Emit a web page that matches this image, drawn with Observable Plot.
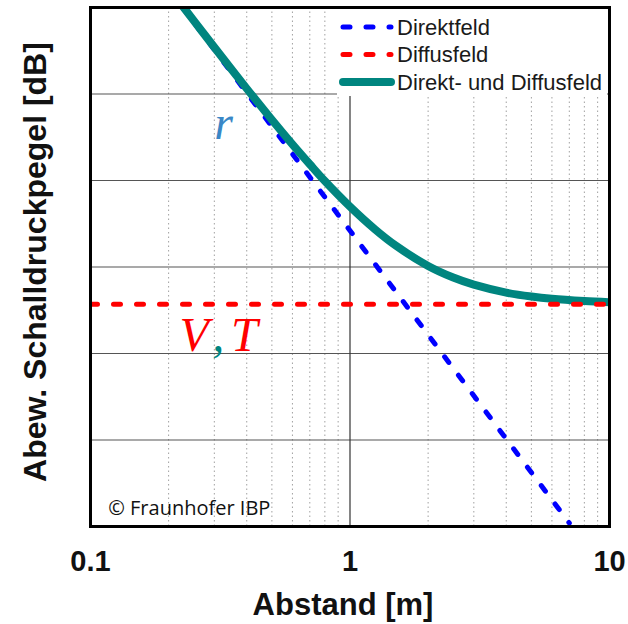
<!DOCTYPE html>
<html>
<head>
<meta charset="utf-8">
<script src="https://cdn.jsdelivr.net/npm/d3@7"></script>
<script src="https://cdn.jsdelivr.net/npm/@observablehq/plot@0.6"></script>
<style>
  html, body { margin: 0; padding: 0; background: #fff; }
  #wrap { position: relative; width: 628px; height: 624px; }
  #legend { position: absolute; left: 337px; top: 9px; }
</style>
</head>
<body>
<div id="wrap"></div>
<script>
// ---- data ----
// distances in m, levels in relative dB (grid every 5 dB)
const combinedDistance = [0.2, 0.25, 0.3, 0.4, 0.5, 0.6, 0.7, 0.8, 1, 1.25, 1.5, 2, 2.5, 3, 4, 5, 6, 8, 10];
const combinedLevel    = [31.15, 29.24, 27.7, 25.31, 23.51, 22.09, 20.94, 19.97, 18.49, 17.17, 16.24, 15.06, 14.39, 13.98, 13.52, 13.29, 13.16, 13.03, 12.96];
const directDistance   = [0.2, 7.0];
const directLevel      = [31.08, 0.2];
const diffuseDistance  = [0.1, 10];
const diffuseLevel     = [12.85, 12.85];
const xTicks      = [0.1, 1, 10];
const xMinorGrid  = [0.2, 0.3, 0.4, 0.5, 0.6, 0.7, 0.8, 0.9, 2, 3, 4, 5, 6, 7, 8, 9];
const xMajorGrid  = [1];
const yGrid       = [5, 10, 15, 20, 25];
const seriesNames = ["Direktfeld", "Diffusfeld", "Direkt- und Diffusfeld"];
const xLabel = "Abstand [m]";
const yLabel = "Abew. Schalldruckpegel [dB]";
const caption = "© Fraunhofer IBP";

// annotation anchors in data units
const annotations = [
  {text: "r", x: 0.326, y: 22.4, color: "#3a87c6", anchor: "middle"},
  {text: "V", x: 0.251, y: 10.15, color: "#ff0000", anchor: "start"},
  {text: ",", x: 0.311, y: 10.15, color: "#00857f", anchor: "start"},
  {text: "T", x: 0.392, y: 10.15, color: "#ff0000", anchor: "start"}
];

const combined = combinedDistance.map((d, i) => ({d, L: combinedLevel[i]}));
const direct = directDistance.map((d, i) => ({d, L: directLevel[i]}));
const diffuse = diffuseDistance.map((d, i) => ({d, L: diffuseLevel[i]}));

const BLUE = "#0000ff", RED = "#ff0000", TEAL = "#00857f";

const chart = Plot.plot({
  width: 628,
  height: 624,
  marginLeft: 90,
  marginRight: 19,
  marginTop: 7,
  marginBottom: 98,
  style: {fontFamily: "'Liberation Sans', Arial, sans-serif", background: "#fff", color: "#111"},
  x: {type: "log", domain: [0.1, 10]},
  y: {domain: [0, 30]},
  marks: [
    Plot.ruleX(xMinorGrid, {stroke: "#a0a0a0", strokeWidth: 1, strokeDasharray: "1.5,3"}),
    Plot.ruleY(yGrid, {stroke: "#555", strokeWidth: 1.2}),
    Plot.ruleX(xMajorGrid, {stroke: "#333", strokeWidth: 1.2}),
    Plot.line(direct, {x: "d", y: "L", stroke: BLUE, strokeWidth: 5, strokeDasharray: "7,16", strokeLinecap: "round", clip: true}),
    Plot.line(combined, {x: "d", y: "L", stroke: TEAL, strokeWidth: 8, curve: "catmull-rom", clip: true}),
    Plot.line(diffuse, {x: "d", y: "L", stroke: RED, strokeWidth: 5, strokeDasharray: "7,16", strokeLinecap: "round", clip: true}),
    Plot.frame({stroke: "#000", strokeWidth: 3}),
    Plot.axisX(xTicks, {tickSize: 0, tickPadding: 24, tickFormat: d => String(d), fontSize: 29, fontWeight: "bold", label: null}),
    Plot.axisY({ticks: [], label: null}),
    Plot.text([xLabel], {frameAnchor: "bottom", dx: -7, dy: 88, lineAnchor: "bottom", fontSize: 31, fontWeight: "bold", fill: "#111"}),
    Plot.text([yLabel], {frameAnchor: "left", textAnchor: "middle", rotate: -90, dx: -45, dy: -5, lineAnchor: "bottom", fontSize: 32, fontWeight: "bold", fill: "#111"}),
    Plot.text(annotations, {x: "x", y: "y", text: "text", fill: "color", textAnchor: "anchor", lineAnchor: "bottom", fontSize: 48, fontStyle: "italic", fontFamily: "'Liberation Serif', 'DejaVu Serif', serif"}),
    Plot.text([caption], {x: () => 0.117, y: () => 0.69, textAnchor: "start", lineAnchor: "bottom", fontSize: 20, fontFamily: "'Open Sans', 'Noto Sans', sans-serif", fill: "#111"})
  ]
});

const wrap = document.getElementById("wrap");
wrap.appendChild(chart);

// legend (inside the plot area, top right, with white background)
const ns = "http://www.w3.org/2000/svg";
const leg = document.createElementNS(ns, "svg");
leg.setAttribute("id", "legend");
leg.setAttribute("width", 270);
leg.setAttribute("height", 87);
const bg = document.createElementNS(ns, "rect");
bg.setAttribute("width", 270); bg.setAttribute("height", 87); bg.setAttribute("fill", "#fff");
leg.appendChild(bg);
const styles = [
  {stroke: BLUE, width: 5, dash: "7,16", cap: "round", x2: 54},
  {stroke: RED, width: 5, dash: "7,16", cap: "round", x2: 54},
  {stroke: TEAL, width: 8, dash: null, cap: "round", x2: 54}
];
seriesNames.forEach((name, i) => {
  const cy = 18 + i * 27.5;
  const s = styles[i];
  const ln = document.createElementNS(ns, "line");
  ln.setAttribute("x1", 6); ln.setAttribute("x2", s.x2);
  ln.setAttribute("y1", cy); ln.setAttribute("y2", cy);
  ln.setAttribute("stroke", s.stroke);
  ln.setAttribute("stroke-width", s.width);
  ln.setAttribute("stroke-linecap", s.cap);
  if (s.dash) ln.setAttribute("stroke-dasharray", s.dash);
  leg.appendChild(ln);
  const t = document.createElementNS(ns, "text");
  t.setAttribute("x", 60); t.setAttribute("y", cy);
  t.setAttribute("dy", "0.36em");
  t.setAttribute("font-family", "'Liberation Sans', Arial, sans-serif");
  t.setAttribute("font-size", 22);
  t.setAttribute("fill", "#1a1a1a");
  t.textContent = name;
  leg.appendChild(t);
});
wrap.appendChild(leg);
</script>
</body>
</html>
